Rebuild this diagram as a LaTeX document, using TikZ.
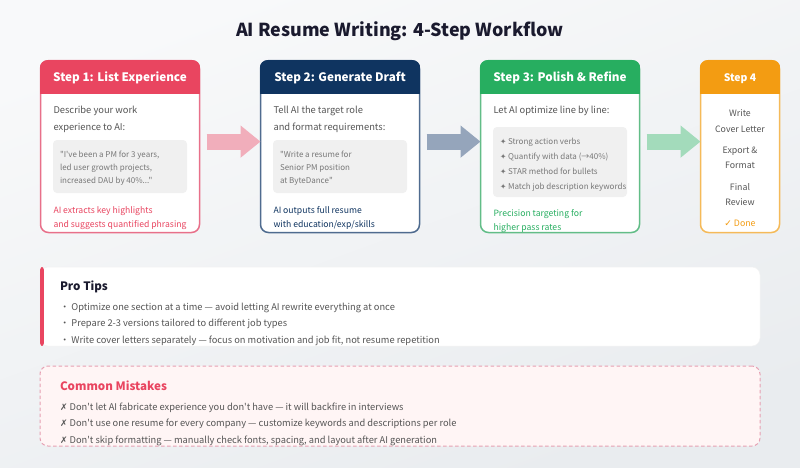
\documentclass[tikz,border=0pt]{standalone}
\usepackage{fontspec}
\setmainfont{Noto Sans CJK SC}[Ligatures=TeXOff]
\newfontfamily\symfont{DejaVu Sans}
\usetikzlibrary{arrows.meta,calc}
\definecolor{cRed}{HTML}{E94560}\definecolor{cNavy}{HTML}{0F3460}\definecolor{cGreen}{HTML}{27AE60}\definecolor{cOrange}{HTML}{F39C12}
\definecolor{bRed}{HTML}{E8708A}\definecolor{bNavy}{HTML}{4F6B8F}\definecolor{bGreen}{HTML}{62BD87}\definecolor{bOrange}{HTML}{F5BA59}
\definecolor{aRed}{HTML}{F1AEBB}\definecolor{aNavy}{HTML}{95A5BB}\definecolor{aGreen}{HTML}{A3DBBB}
\definecolor{ink}{HTML}{1A1A2E}\definecolor{body}{HTML}{555555}\definecolor{quote}{HTML}{777777}
\definecolor{bgTop}{HTML}{F8F9FA}\definecolor{bgBot}{HTML}{E9ECEF}
\tikzset{
  txt/.style={inner sep=0pt,outer sep=0pt,anchor=base west,font=\fontsize{9.35}{12}\selectfont,text=body},
  ctr/.style={txt,anchor=base,font=\fontsize{8.8}{11}\selectfont},
  quo/.style={txt,font=\fontsize{8}{10}\selectfont,text=quote},
  note/.style={txt,font=\fontsize{8.65}{11}\selectfont},
  head/.style={inner sep=0pt,outer sep=0pt,anchor=base,font=\bfseries\fontsize{11.7}{14}\selectfont,text=white},
  tip/.style={txt,font=\fontsize{9.3}{11}\selectfont},
  sect/.style={txt,font=\bfseries\fontsize{11.6}{14}\selectfont},
  cardbox/.style={rectangle,rounded corners=8pt,fill=white,line width=1.5pt,outer sep=0pt,inner sep=0pt},
  graybox/.style={rectangle,rounded corners=4pt,fill=black!6,inner sep=0pt,outer sep=0pt},
  flow/.style={line width=16pt,shorten <=7pt,-{Triangle[length=20pt,width=31pt]}},
}
\newcommand{\stepcard}[6]{% name, center x, width, header colour, border colour, title
  \node[cardbox,draw=#5,minimum width=#3pt-1.5pt,minimum height=171.8pt] (#1) at (#2,146.6) {};
  \begin{scope}
    \clip[rounded corners=8pt] (#2-#3/2,60) rectangle (#2+#3/2,233.4);
    \fill[#4] (#2-#3/2,60) rectangle (#2+#3/2,93.5);
  \end{scope}
  \node[head] (#1title) at (#2,81.5) {#6};
}
\newcommand{\sparkle}{{\symfont\fontsize{7.5}{8}\selectfont ✦}}
\newcommand{\crossmark}{{\symfont\fontsize{9}{10}\selectfont ✗}}
\begin{document}
\begin{tikzpicture}[x=1pt,y=-1pt]
\useasboundingbox (0,0) rectangle (800,467);
\shade[top color=bgTop,bottom color=bgBot,shading angle=20] (0,0) rectangle (800,467);
\node[inner sep=0pt,anchor=base,font=\bfseries\fontsize{17.9}{20}\selectfont,text=ink] (title) at (400,36) {AI Resume Writing: 4-Step Workflow};

\stepcard{c1}{120}{160.5}{cRed}{bRed}{Step 1: List Experience}
\stepcard{c2}{340}{160.5}{cNavy}{bNavy}{Step 2: Generate Draft}
\stepcard{c3}{560}{160.5}{cGreen}{bGreen}{Step 3: Polish \& Refine}
\stepcard{c4}{740}{80.5}{cOrange}{bOrange}{\fontsize{10.4}{13}\selectfont Step 4}

\draw[flow,aRed] ([yshift=5pt]c1.east) -- ([yshift=5pt]c2.west);
\draw[flow,aNavy] ([yshift=5pt]c2.east) -- ([yshift=5pt]c3.west);
\draw[flow,aGreen] ([yshift=5pt]c3.east) -- ([yshift=5pt]c4.west);

\begin{scope}
\clip (30,94) rectangle (790,232.6);
% card 1
\node[txt] (c1a) at (53.5,113.5) {Describe your work};
\node[txt] (c1b) at (53.5,130.5) {experience to AI:};
\node[graybox,minimum width=134pt,minimum height=53pt] (c1g) at (120,166.5) {};
\node[quo] (c1q1) at (60,157) {"I've been a PM for 3 years,};
\node[quo] (c1q2) at (60,170.5) {led user growth projects,};
\node[quo] (c1q3) at (60,183.5) {increased DAU by 40\%..."};
\node[note,text=cRed] (c1n1) at (53.5,213.5) {AI extracts key highlights};
\node[note,text=cRed] (c1n2) at (53.5,227) {and suggests quantified phrasing};
% card 2
\node[txt] (c2a) at (273.5,113.5) {Tell AI the target role};
\node[txt] (c2b) at (273.5,130.5) {and format requirements:};
\node[graybox,minimum width=134pt,minimum height=53pt] (c2g) at (340,166.5) {};
\node[quo] (c2q1) at (280,157) {"Write a resume for};
\node[quo] (c2q2) at (280,170.5) {Senior PM position};
\node[quo] (c2q3) at (280,183.5) {at ByteDance"};
\node[note,text=cNavy] (c2n1) at (273.5,213.5) {AI outputs full resume};
\node[note,text=cNavy] (c2n2) at (273.5,227) {with education/exp/skills};
% card 3
\node[txt] (c3a) at (493.5,113.5) {Let AI optimize line by line:};
\node[graybox,minimum width=134pt,minimum height=70pt] (c3g) at (560,162) {};
\node[quo] (c3q1) at (500,144) {\sparkle\ Strong action verbs};
\node[quo] (c3q2) at (500,159) {\sparkle\ Quantify with data (→40\%)};
\node[quo] (c3q3) at (500,174) {\sparkle\ STAR method for bullets};
\node[quo] (c3q4) at (500,189.5) {\sparkle\ Match job description keywords};
\node[note,text=cGreen] (c3n1) at (493.5,216.5) {Precision targeting for};
\node[note,text=cGreen] (c3n2) at (493.5,230) {higher pass rates};
% card 4
\node[ctr] (c4a) at (740,116.5) {Write};
\node[ctr] (c4b) at (740,132) {Cover Letter};
\node[ctr] (c4c) at (740,153.5) {Export \&};
\node[ctr] (c4d) at (740,168.5) {Format};
\node[ctr] (c4e) at (740,190) {Final};
\node[ctr] (c4f) at (740,205.5) {Review};
\node[ctr,text=cOrange] (c4g) at (740,226.5) {{\symfont\fontsize{9}{10}\selectfont ✓} Done};
\end{scope}

% pro tips
\node[rectangle,rounded corners=8pt,fill=white,draw=black!5,line width=.5pt,minimum width=720pt,minimum height=79pt,inner sep=0pt,outer sep=0pt] (tips) at (400,306.5) {};
\begin{scope}
\clip[rounded corners=3pt] (40,267) rectangle (44,346);
\fill[cRed] (40,267) rectangle (44,346);
\end{scope}
\begin{scope}
\clip (44,267) rectangle (758,346);
\node[sect,text=ink] (tipst) at (60,290) {Pro Tips};
\node[tip] (t1) at (60,310) {・ Optimize one section at a time — avoid letting AI rewrite everything at once};
\node[tip] (t2) at (60,326.5) {・ Prepare 2-3 versions tailored to different job types};
\node[tip] (t3) at (60,343) {・ Write cover letters separately — focus on motivation and job fit, not resume repetition};
\end{scope}

% mistakes
\definecolor{bDash}{HTML}{E6A0B2}\definecolor{mFill}{HTML}{FFF5F5}
\node[rectangle,rounded corners=8pt,fill=mFill,draw=bDash,line width=1pt,dash pattern=on 3.5pt off 2.5pt,minimum width=720pt,minimum height=80pt,inner sep=0pt,outer sep=0pt] (miss) at (400,406) {};
\begin{scope}
\clip (42,367) rectangle (758,445.5);
\node[sect,text=cRed] (misst) at (60,390) {Common Mistakes};
\node[tip] (m1) at (60,410) {\crossmark\ Don't let AI fabricate experience you don't have — it will backfire in interviews};
\node[tip] (m2) at (60,426.5) {\crossmark\ Don't use one resume for every company — customize keywords and descriptions per role};
\node[tip] (m3) at (60,443) {\crossmark\ Don't skip formatting — manually check fonts, spacing, and layout after AI generation};
\end{scope}
\end{tikzpicture}
\end{document}
